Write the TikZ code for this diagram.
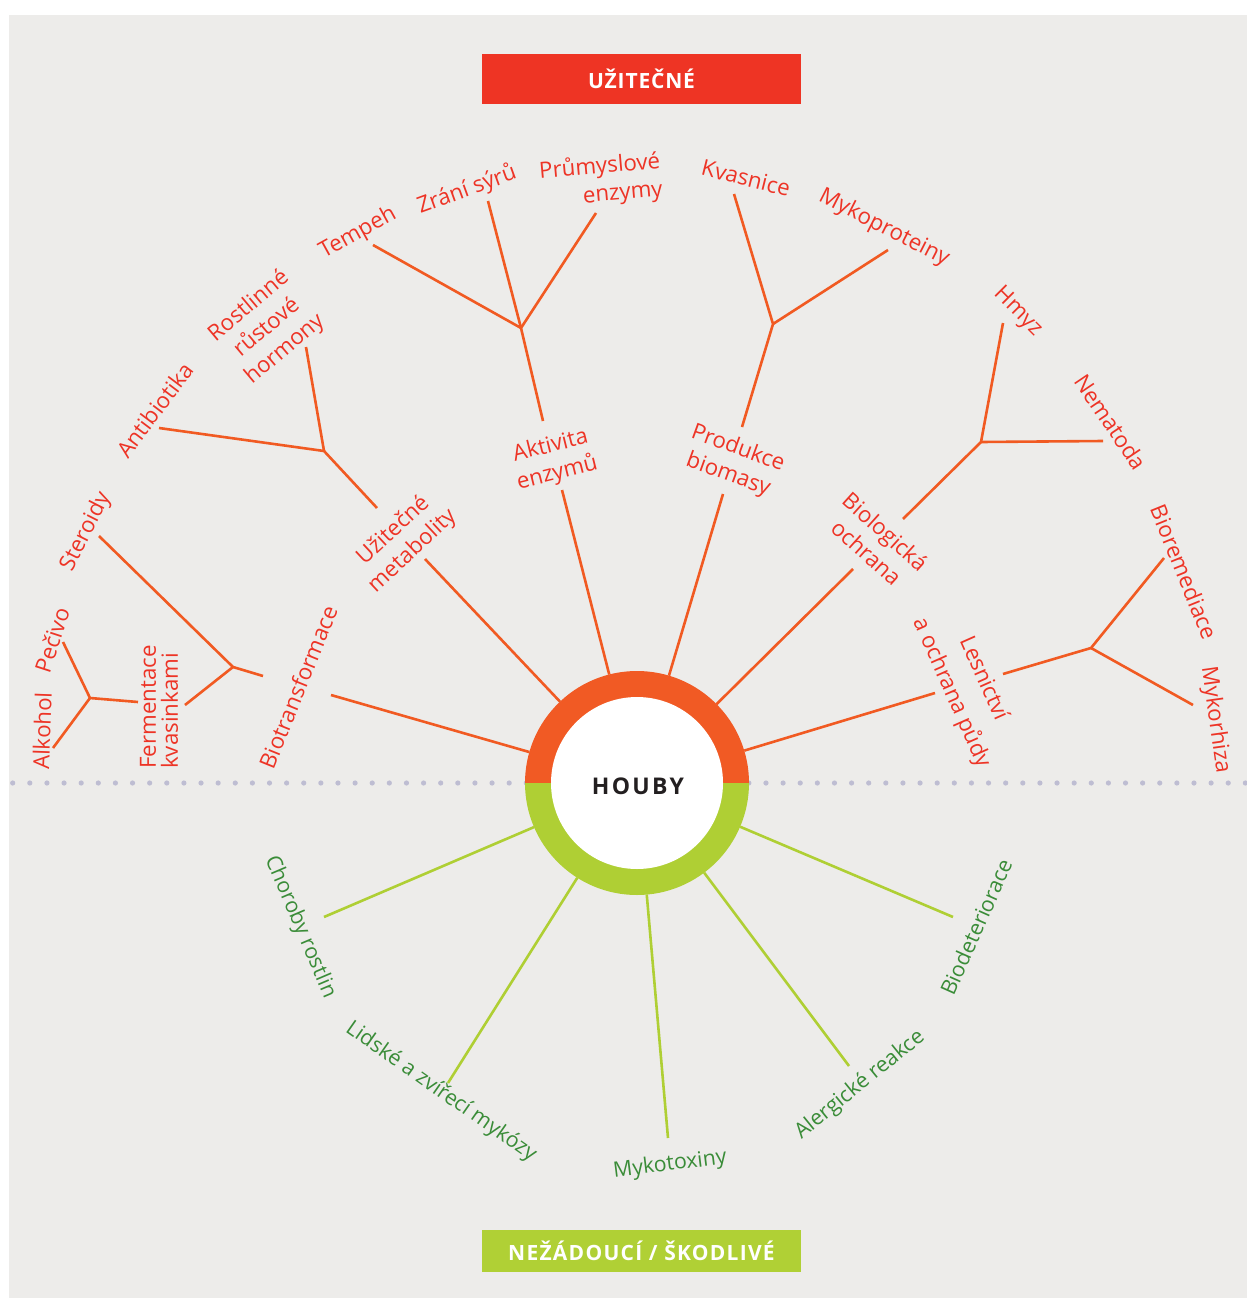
\documentclass[tikz,border=0pt]{standalone}
\usepackage{fontspec}
\setmainfont{Open Sans}
\newfontfamily\hdfont[LetterSpace=4]{Open Sans}
\newfontfamily\hdfontB[LetterSpace=6]{Open Sans}
\newfontfamily\hubfont[LetterSpace=10]{Open Sans}
\definecolor{bgc}{RGB}{237,236,234}
\definecolor{labred}{RGB}{237,52,38}
\definecolor{lineor}{RGB}{241,90,34}
\definecolor{ringor}{RGB}{241,90,36}
\definecolor{hdred}{RGB}{238,52,36}
\definecolor{linegr}{RGB}{175,207,52}
\definecolor{hdgreen}{RGB}{176,208,53}
\definecolor{labgreen}{RGB}{58,140,56}
\definecolor{dotc}{RGB}{190,189,210}
\definecolor{darktxt}{RGB}{35,31,32}
\tikzset{
  lab/.style={text=labred, font=\fontsize{22.3}{28}\selectfont, align=center, inner sep=0pt},
  glab/.style={text=labgreen, font=\fontsize{21.3}{27}\selectfont, align=center, inner sep=0pt},
  brline/.style={draw=lineor, line width=2.6pt},
  gline/.style={draw=linegr, line width=2.6pt},
  hdbox/.style={minimum width=319pt, inner sep=0pt, outer sep=0pt, text=white,
     font=\hdfont\bfseries\fontsize{21}{21}\selectfont},
}
\begin{document}
\begin{tikzpicture}[x=1pt,y=-1pt]
\useasboundingbox (0,0) rectangle (1247,1298);
\fill[white] (0,0) rectangle (1247,1298);
\fill[bgc] (9,15) rectangle (1247,1298);

% dotted divider
\foreach \i in {0,...,72} \fill[dotc] ({12.7+17.12*\i},783) circle[radius=2.6pt];

% hub
\node[circle, minimum size=224pt, inner sep=0pt, outer sep=0pt] (hub) at (637,783) {};
\begin{scope}
  \clip (520,660) rectangle (755,783);
  \fill[ringor] (hub.center) circle[radius=112pt];
\end{scope}
\begin{scope}
  \clip (520,783) rectangle (755,900);
  \fill[linegr] (hub.center) circle[radius=112pt];
\end{scope}
\fill[white] (hub.center) circle[radius=86pt];
\node[font=\hubfont\bfseries\fontsize{23}{23}\selectfont, text=darktxt] (houby) at (638,786) {HOUBY};

% headers
\node[hdbox, fill=hdred, minimum height=50pt] (top) at (641.5,79) {UŽITEČNÉ};
\node[hdbox, fill=hdgreen, minimum height=42pt, font=\hdfontB\bfseries\fontsize{21}{21}\selectfont] (bottom) at (641.5,1251) {NEŽÁDOUCÍ / ŠKODLIVÉ};

% coordinates
\coordinate (bt-end) at (331,695);
\coordinate (bt-stub) at (263,676);
\coordinate (bt-j) at (233,667);
\coordinate (ster) at (99,536);
\coordinate (ferm) at (185,705);
\coordinate (fk-stub) at (138,702);
\coordinate (fk-j) at (90,698);
\coordinate (pec) at (63,642);
\coordinate (alk) at (53,748);

\coordinate (um-end) at (425,559);
\coordinate (um-stub) at (377,508);
\coordinate (um-j) at (324,451);
\coordinate (anti) at (159,428);
\coordinate (horm) at (306,347);

\coordinate (ae-end) at (562,490);
\coordinate (ae-stub) at (543,421);
\coordinate (ae-j) at (521,328);
\coordinate (temp) at (373,245);
\coordinate (zrani) at (488,201);
\coordinate (prum) at (596,213);

\coordinate (pb-end) at (723,494);
\coordinate (pb-stub) at (742,427);
\coordinate (pb-j) at (773,324);
\coordinate (kvas) at (734,194);
\coordinate (myko) at (888,250);

\coordinate (bo-end) at (853,569);
\coordinate (bo-stub) at (903,519);
\coordinate (bo-j) at (981,442);
\coordinate (hmyz) at (1003,323);
\coordinate (nema) at (1103,441);

\coordinate (le-end) at (935,693);
\coordinate (le-stub) at (1003,674);
\coordinate (le-j) at (1091,648);
\coordinate (biorem) at (1164,558);
\coordinate (mykor) at (1193,705);

\coordinate (chor) at (324,917);
\coordinate (lidske) at (448,1083);
\coordinate (mykot) at (668,1138);
\coordinate (alerg) at (849,1066);
\coordinate (biodet) at (953,917);

% orange connectors
\draw[brline] (hub) -- (bt-end);
\draw[brline] (bt-stub) -- (bt-j) -- (ster);
\draw[brline] (bt-j) -- (ferm);
\draw[brline] (fk-stub) -- (fk-j) -- (pec);
\draw[brline] (fk-j) -- (alk);

\draw[brline] (hub) -- (um-end);
\draw[brline] (um-stub) -- (um-j) -- (anti);
\draw[brline] (um-j) -- (horm);

\draw[brline] (hub) -- (ae-end);
\draw[brline] (ae-stub) -- (ae-j) -- (temp);
\draw[brline] (ae-j) -- (zrani);
\draw[brline] (ae-j) -- (prum);

\draw[brline] (hub) -- (pb-end);
\draw[brline] (pb-stub) -- (pb-j) -- (kvas);
\draw[brline] (pb-j) -- (myko);

\draw[brline] (hub) -- (bo-end);
\draw[brline] (bo-stub) -- (bo-j) -- (hmyz);
\draw[brline] (bo-j) -- (nema);

\draw[brline] (hub) -- (le-end);
\draw[brline] (le-stub) -- (le-j) -- (biorem);
\draw[brline] (le-j) -- (mykor);

% green connectors
\draw[gline] (hub) -- (chor);
\draw[gline] (hub) -- (lidske);
\draw[gline] (hub) -- (mykot);
\draw[gline] (hub) -- (alerg);
\draw[gline] (hub) -- (biodet);

% orange labels
\node[lab, rotate=29] (t-tempeh) at (358,233) {Tempeh};
\node[lab, rotate=20] (t-zrani) at (467,190) {Zrání sýrů};
\node[lab, rotate=5, align=right] (t-prum) at (601,181) {Průmyslové\\enzymy};
\node[lab, rotate=-14] (t-kvas) at (746,178) {Kvasnice};
\node[lab, rotate=-27] (t-myko) at (884,228) {Mykoproteiny};
\node[lab, rotate=-45] (t-hmyz) at (1018,312) {Hmyz};
\node[lab, rotate=-56] (t-nema) at (1111,422) {Nematoda};
\node[lab, rotate=-68] (t-biorem) at (1184,572) {Bioremediace};
\node[lab, rotate=-82] (t-mykor) at (1215,720) {Mykorhiza};
\node[lab, rotate=-66] (t-les) at (967,686) {Lesnictví\\[7pt]a ochrana půdy};
\node[lab, rotate=-42] (t-bio) at (876,542) {Biologická\\ochrana};
\node[lab, rotate=-20] (t-prod) at (733,462) {Produkce\\biomasy};
\node[lab, rotate=14] (t-akt) at (554,460) {Aktivita\\enzymů};
\node[lab, rotate=43] (t-uzit) at (403,541) {Užitečné\\metabolity};
\node[lab, rotate=40] (t-rost) at (267,328) {Rostlinné\\růstové\\hormony};
\node[lab, rotate=53] (t-anti) at (155,410) {Antibiotika};
\node[lab, rotate=63] (t-ster) at (86,532) {Steroidy};
\node[lab, rotate=72] (t-pec) at (52,640) {Pečivo};
\node[lab, rotate=88] (t-alk) at (42,731) {Alkohol};
\node[lab, rotate=90, anchor=west, align=left, font=\fontsize{22.3}{22}\selectfont] (t-ferm) at (159,769) {Fermentace\\kvasinkami};
\node[lab, rotate=68] (t-biot) at (298,687) {Biotransformace};

% green labels
\node[glab, rotate=-67] (t-chor) at (300,927) {Choroby rostlin};
\node[glab, rotate=-35] (t-lidske) at (441,1092) {Lidské a zvířecí mykózy};
\node[glab, rotate=7] (t-mykot) at (670,1165) {Mykotoxiny};
\node[glab, rotate=39] (t-alerg) at (860,1085) {Alergické reakce};
\node[glab, rotate=66] (t-biodet) at (976,927) {Biodeteriorace};
\end{tikzpicture}
\end{document}
